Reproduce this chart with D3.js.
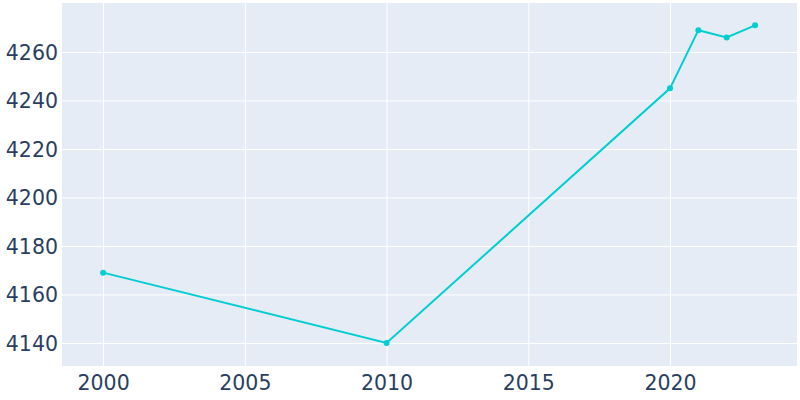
<!DOCTYPE html>
<html><head><meta charset="utf-8">
<script src="https://cdn.jsdelivr.net/npm/d3@7"></script>
<style>body{margin:0;background:#fff}svg{display:block}</style>
</head><body>
<svg id="c" width="800" height="400"></svg>
<script>
const years = [2000, 2010, 2020, 2021, 2022, 2023];
const population = [4169, 4140, 4245, 4269, 4266, 4271];
const xTicks = [2000, 2005, 2010, 2015, 2020];
const yTicks = [4140, 4160, 4180, 4200, 4220, 4240, 4260];

const svg = d3.select("#c");
const L = 62, R = 797, T = 3, B = 366;
const x = d3.scaleLinear().domain([1998.55, 2024.48]).range([L, R]);
const y = d3.scaleLinear().domain([4130.5, 4280.2]).range([B, T]);

svg.append("rect").attr("x", L).attr("y", T).attr("width", R - L).attr("height", B - T).attr("fill", "#E5ECF6");

const gx = svg.append("g").attr("transform", `translate(0,${B})`)
  .call(d3.axisBottom(x).tickValues(xTicks).tickFormat(d3.format("d")).tickSize(-(B - T)).tickPadding(9));
const gy = svg.append("g").attr("transform", `translate(${L},0)`)
  .call(d3.axisLeft(y).tickValues(yTicks).tickFormat(d3.format("d")).tickSize(-(R - L)).tickPadding(4));
[gx, gy].forEach(g => {
  g.select(".domain").remove();
  g.selectAll(".tick line").attr("stroke", "#fff").attr("stroke-width", 1);
  g.selectAll(".tick text").attr("fill", "#2a3f5f").style("font-family", "DejaVu Sans, sans-serif").style("font-size", "20.5px");
});
gx.selectAll(".tick text").attr("dy", "0.71em");
gy.selectAll(".tick text").attr("dy", "0.35em");

const data = years.map((d, i) => ({ x: d, y: population[i] }));
svg.append("path").datum(data)
  .attr("fill", "none").attr("stroke", "#00CED1").attr("stroke-width", 2)
  .attr("d", d3.line().x(d => x(d.x)).y(d => y(d.y)));
svg.selectAll("circle.pt").data(data).enter().append("circle")
  .attr("cx", d => x(d.x)).attr("cy", d => y(d.y)).attr("r", 3)
  .attr("fill", "#00CED1");
</script>
</body></html>
